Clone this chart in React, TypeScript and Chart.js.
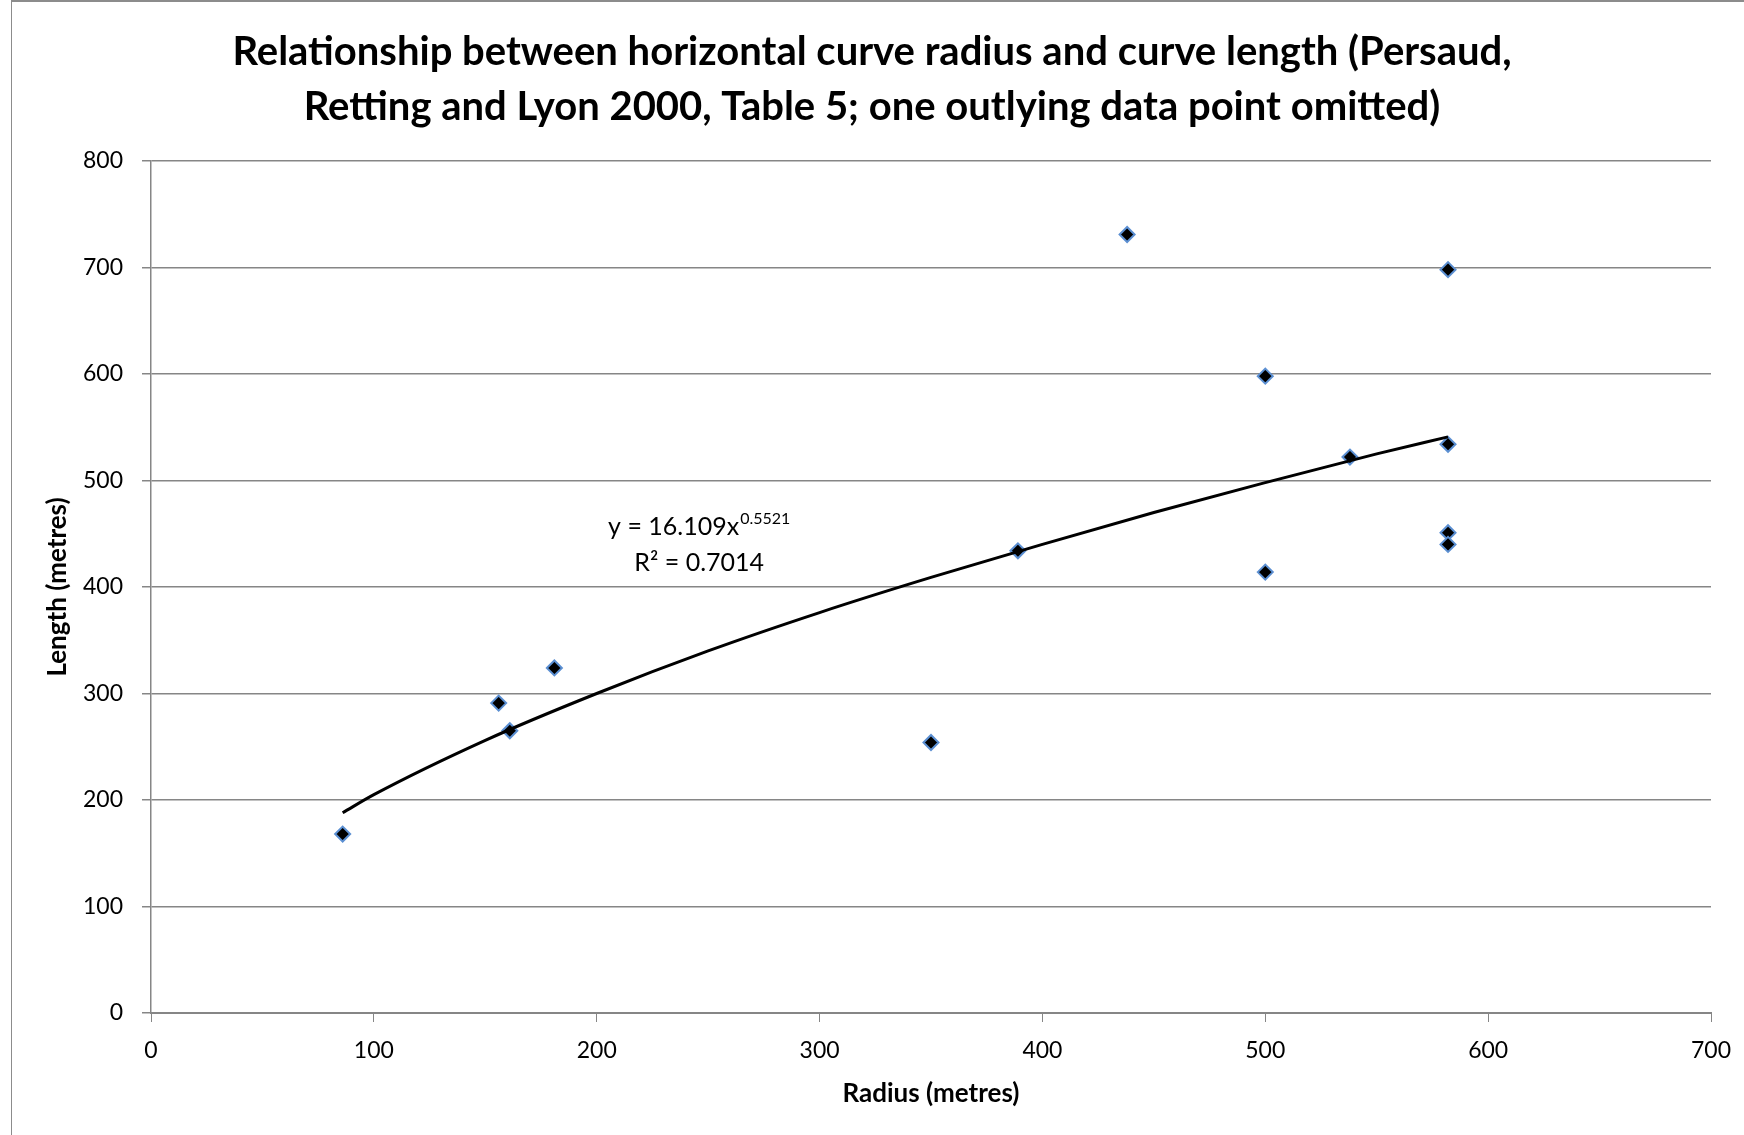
import { useEffect, useRef } from "react";
import { Chart, registerables } from "chart.js";

Chart.register(...registerables);

// Observed data (radius in metres, length in metres)
const radiusValues = [86, 156, 161, 181, 350, 389, 438, 500, 500, 538, 582, 582, 582, 582];
const lengthValues = [168, 291, 265, 324, 254, 434, 731, 598, 414, 522, 698, 534, 451, 440];

// Power trendline
const trendRadius = [86, 100, 150, 200, 250, 300, 350, 400, 450, 500, 550, 582];
const trendLength = [188, 205, 256, 300, 340, 376, 409, 440, 470, 498, 525, 541];

const xTickValues = [0, 100, 200, 300, 400, 500, 600, 700];
const yTickValues = [0, 100, 200, 300, 400, 500, 600, 700, 800];

const titleLines = [
  "Relationship between horizontal curve radius and curve length (Persaud,",
  "Retting and Lyon 2000, Table 5; one outlying data point omitted)",
];
const xAxisTitle = "Radius (metres)";
const yAxisTitle = "Length (metres)";
const equationBase = "y = 16.109x";
const equationExponent = "0.5521";
const rSquaredText = "R² = 0.7014";
const equationAnchor = { x: 246, y: 456 };

const FONT = "Lato, 'Open Sans', 'DejaVu Sans', sans-serif";

const equationPlugin = {
  id: "equationLabel",
  afterDatasetsDraw(chart: any) {
    const { ctx, scales } = chart;
    const cx = scales.x.getPixelForValue(equationAnchor.x);
    const cy = scales.y.getPixelForValue(equationAnchor.y);
    ctx.save();
    ctx.fillStyle = "#000";
    ctx.textBaseline = "middle";
    const baseFont = `25px ${FONT}`;
    const supFont = `16px ${FONT}`;
    ctx.font = baseFont;
    const w1 = ctx.measureText(equationBase).width;
    ctx.font = supFont;
    const w2 = ctx.measureText(equationExponent).width;
    const total = w1 + w2 + 1;
    const x0 = cx - total / 2;
    ctx.textAlign = "left";
    ctx.font = baseFont;
    ctx.fillText(equationBase, x0, cy);
    ctx.font = supFont;
    ctx.fillText(equationExponent, x0 + w1 + 1, cy - 9);
    ctx.font = baseFont;
    ctx.textAlign = "center";
    ctx.fillText(rSquaredText, cx, cy + 36);
    ctx.restore();
  },
};

export default function App() {
  const canvasRef = useRef<HTMLCanvasElement | null>(null);

  useEffect(() => {
    if (!canvasRef.current) return;
    const chart = new Chart(canvasRef.current, {
      type: "scatter",
      data: {
        datasets: [
          {
            label: "Power trend",
            data: trendRadius.map((x, i) => ({ x, y: trendLength[i] })),
            showLine: true,
            borderColor: "#000000",
            borderWidth: 3,
            pointRadius: 0,
            pointHoverRadius: 0,
            tension: 0.4,
            cubicInterpolationMode: "monotone",
            fill: false,
          },
          {
            label: "Curves",
            data: radiusValues.map((x, i) => ({ x, y: lengthValues[i] })),
            pointStyle: "rectRot",
            pointRadius: 7.5,
            pointBackgroundColor: "#000000",
            pointBorderColor: "#5b8fd2",
            pointBorderWidth: 2,
            showLine: false,
          },
        ],
      },
      options: {
        responsive: false,
        animation: false,
        devicePixelRatio: 1,
        layout: { padding: { left: 0, right: 0, top: 0, bottom: 0 } },
        plugins: {
          legend: { display: false },
          tooltip: { enabled: false },
          title: {
            display: true,
            text: titleLines,
            color: "#000",
            font: { family: FONT, size: 40, weight: "bold", lineHeight: 55 / 40 },
            padding: { top: 25, bottom: 26 },
          },
        },
        scales: {
          x: {
            type: "linear",
            min: 0,
            max: 700,
            afterBuildTicks: (scale: any) => {
              scale.ticks = xTickValues.map((v) => ({ value: v }));
            },
            afterFit: (scale: any) => {
              scale.height = 122;
              scale.paddingRight = 33;
            },
            ticks: {
              color: "#000",
              font: { family: FONT, size: 23 },
              padding: 15,
              maxRotation: 0,
            },
            grid: {
              drawOnChartArea: false,
              drawTicks: true,
              tickLength: 9,
              color: "#868686",
            },
            border: { color: "#868686", width: 2 },
            title: {
              display: true,
              text: xAxisTitle,
              color: "#000",
              font: { family: FONT, size: 26, weight: "bold", lineHeight: 1.2 },
              padding: { top: 0, bottom: 26 },
            },
          },
          y: {
            type: "linear",
            min: 0,
            max: 800,
            afterBuildTicks: (scale: any) => {
              scale.ticks = yTickValues.map((v) => ({ value: v }));
            },
            afterFit: (scale: any) => {
              scale.width = 151;
            },
            ticks: {
              color: "#000",
              font: { family: FONT, size: 23 },
              padding: 19,
            },
            grid: {
              drawOnChartArea: true,
              drawTicks: true,
              tickLength: 9,
              color: "#868686",
              lineWidth: 1.5,
            },
            border: { color: "#868686", width: 1.5 },
            title: {
              display: true,
              text: yAxisTitle,
              color: "#000",
              font: { family: FONT, size: 26, weight: "bold", lineHeight: 1.2 },
              padding: { top: 42, bottom: 0 },
            },
          },
        },
      },
      plugins: [equationPlugin],
    } as any);
    return () => chart.destroy();
  }, []);

  return (
    <div
      style={{
        position: "fixed",
        left: 0,
        top: 0,
        width: 1744,
        height: 1135,
        background: "#fff",
        overflow: "hidden",
      }}
    >
      <div
        style={{
          position: "absolute",
          left: 11,
          top: 0,
          width: 1800,
          height: 1200,
          borderLeft: "1.5px solid #8c8c8c",
          borderTop: "2px solid #8c8c8c",
        }}
      />
      <canvas
        ref={canvasRef}
        width={1744}
        height={1135}
        style={{ position: "absolute", left: 0, top: 0, width: 1744, height: 1135 }}
      />
    </div>
  );
}
